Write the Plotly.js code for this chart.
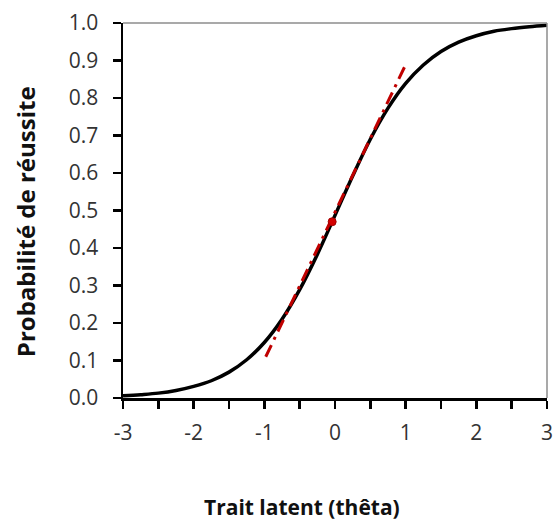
<!DOCTYPE html>
<html>
<head>
<meta charset="utf-8">
<script src="https://cdn.plot.ly/plotly-3.0.1.min.js"></script>
<style>html,body{margin:0;padding:0;background:#fff;}</style>
</head>
<body>
<div id="chart" style="width:553px;height:522px;"></div>
<script>
// Item characteristic curve
const theta = [-3, -2.75, -2.5, -2.25, -2, -1.75, -1.5, -1.25, -1, -0.75, -0.5, -0.25, 0,
               0.25, 0.5, 0.75, 1, 1.25, 1.5, 1.75, 2, 2.25, 2.5, 2.75, 3];
const prob  = [0.006, 0.009, 0.013, 0.020, 0.031, 0.046, 0.069, 0.102, 0.148, 0.210, 0.289, 0.383, 0.487,
               0.592, 0.690, 0.773, 0.839, 0.888, 0.924, 0.949, 0.966, 0.978, 0.985, 0.990, 0.994];
// Tangent line at the inflection point
const tangentX = [-0.98, 0.99];
const tangentY = [0.11, 0.885];
// Inflection point marker
const pointX = [-0.04];
const pointY = [0.47];
// Tick labels
const xTicks = [-3, -2, -1, 0, 1, 2, 3];
const yTicks = [0, 0.1, 0.2, 0.3, 0.4, 0.5, 0.6, 0.7, 0.8, 0.9, 1.0];

const data = [
  {x: theta, y: prob, mode: 'lines', line: {color: '#000', width: 3.5, shape: 'spline'}, hoverinfo: 'skip'},
  {x: tangentX, y: tangentY, mode: 'lines', line: {color: '#c00000', width: 3, dash: '13px,6px,3px,6px'}, hoverinfo: 'skip'},
  {x: pointX, y: pointY, mode: 'markers', marker: {color: '#d40000', size: 8, line: {color: '#a00000', width: 1}}, hoverinfo: 'skip'}
];

const tickFont = {family: 'Open Sans, sans-serif', size: 21, color: '#333'};
const xTitleFont = {family: 'Open Sans, sans-serif', size: 21, color: '#111', weight: 'bold'};
const yTitleFont = {family: 'Open Sans, sans-serif', size: 24, color: '#111', weight: 'bold'};

const layout = {
  width: 553, height: 522,
  margin: {l: 123, r: 6, t: 23, b: 124},
  paper_bgcolor: '#fff', plot_bgcolor: '#fff',
  showlegend: false,
  xaxis: {
    range: [-3, 3], tickvals: xTicks, ticktext: xTicks.map(String),
    showgrid: false, zeroline: false, showline: true, linecolor: '#000', linewidth: 2.5,
    ticks: 'outside', ticklen: 8, tickwidth: 2.5, tickcolor: '#000', ticklabelstandoff: 6,
    ticklabeloverflow: 'allow',
    minor: {dtick: 0.5, ticks: 'outside', ticklen: 8, tickwidth: 2.5, tickcolor: '#000', showgrid: false},
    tickfont: tickFont, fixedrange: true
  },
  yaxis: {
    range: [0, 1], tickvals: yTicks, ticktext: yTicks.map(v => v.toFixed(1)),
    showgrid: false, zeroline: false, showline: true, linecolor: '#000', linewidth: 2.5,
    ticks: 'outside', ticklen: 8, tickwidth: 2.5, tickcolor: '#000', ticklabelstandoff: 10,
    ticklabeloverflow: 'allow',
    tickfont: tickFont, fixedrange: true
  },
  shapes: [
    {type: 'line', xref: 'paper', yref: 'paper', x0: 0, x1: 1, y0: 1, y1: 1, line: {color: '#8c8c8c', width: 1.5}},
    {type: 'line', xref: 'paper', yref: 'paper', x0: 1, x1: 1, y0: 0, y1: 1, line: {color: '#8c8c8c', width: 1.5}}
  ],
  annotations: [
    {text: 'Trait latent (thêta)', xref: 'paper', yref: 'paper', x: 0.421, y: -0.291,
     xanchor: 'center', yanchor: 'middle', showarrow: false, font: xTitleFont},
    {text: 'Probabilité de réussite', xref: 'paper', yref: 'paper', x: -0.231, y: 0.469,
     xanchor: 'center', yanchor: 'middle', showarrow: false, textangle: -90, font: yTitleFont}
  ]
};

Plotly.newPlot('chart', data, layout, {displayModeBar: false, staticPlot: true});
</script>
</body>
</html>
